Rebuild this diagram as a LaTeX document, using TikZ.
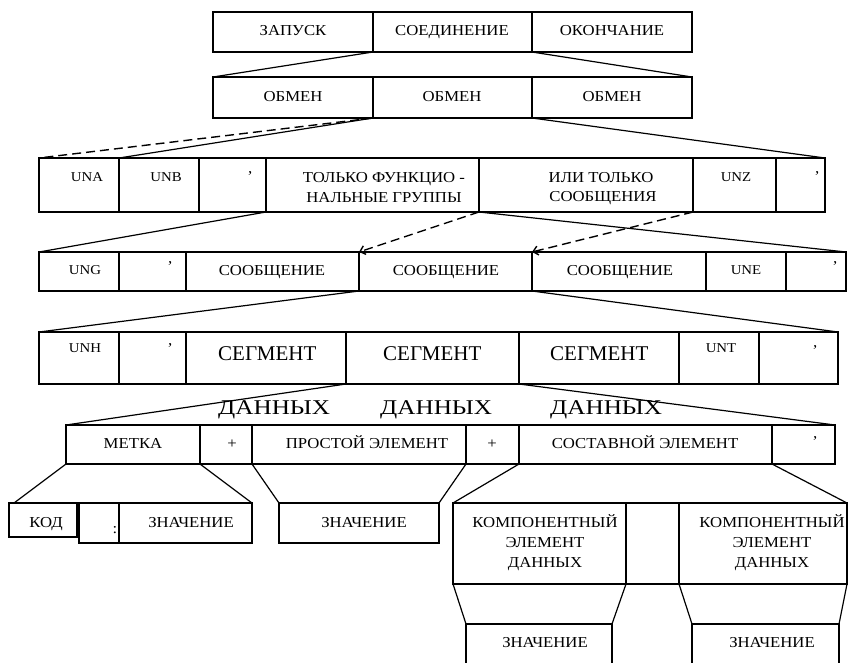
\documentclass[tikz,border=0pt]{standalone}
\usepackage{fontspec}
\usepackage{graphicx}
\setmainfont{Liberation Serif}[FakeStretch=1.1]
\newfontfamily\bigfont{Liberation Serif}
\usetikzlibrary{arrows.meta,calc}
\tikzset{
  cellbox/.style={draw, line width=1.2pt, rectangle, inner sep=0pt, outer sep=0pt, anchor=north west},
  txt/.style={inner sep=0pt, text height=10pt, text depth=0pt, font=\fontsize{15.2}{18}\selectfont},
  lat/.style={inner sep=0pt, text height=8.6pt, text depth=0pt, font=\fontsize{13.5}{16}\selectfont},
  apos/.style={inner sep=0pt, anchor=base, font=\fontsize{15}{18}\selectfont},
  bigtxt/.style={inner sep=0pt, anchor=base west, font=\bigfont\fontsize{21}{24}\selectfont},
  conn/.style={line width=1.2pt},
  dconn/.style={line width=1.4pt, dash pattern=on 9pt off 5pt},
  darrow/.style={line width=1.4pt, dash pattern=on 9pt off 5pt, -{Straight Barb[length=5pt,width=9pt]}}
}
\newcommand\cellat[6]{\node[cellbox, minimum width=#4pt, minimum height=#5pt] (#1) at (#2,#3) {#6};}
\begin{document}
\begin{tikzpicture}[x=1pt,y=-1pt]
\useasboundingbox (0,0) rectangle (848,662);
\clip (0,0) rectangle (848,662);
% row 1
\cellat{a1}{213}{12}{160}{40}{}
\cellat{a2}{373}{12}{159}{40}{}
\cellat{a3}{532}{12}{160}{40}{}
\node[txt] (ta1) at (293,30) {ЗАПУСК};
\node[txt] (ta2) at (452,30) {СОЕДИНЕНИЕ};
\node[txt] (ta3) at (612,30) {ОКОНЧАНИЕ};
% row 2
\cellat{b1}{213}{77}{160}{41}{}
\cellat{b2}{373}{77}{159}{41}{}
\cellat{b3}{532}{77}{160}{41}{}
\node[txt] (tb1) at (293,96) {ОБМЕН};
\node[txt] (tb2) at (452,96) {ОБМЕН};
\node[txt] (tb3) at (612,96) {ОБМЕН};
% row 3
\cellat{c1}{39}{158}{80}{54}{}
\cellat{c2}{119}{158}{80}{54}{}
\cellat{c3}{199}{158}{67}{54}{}
\cellat{c4}{266}{158}{213}{54}{}
\cellat{c5}{479}{158}{214}{54}{}
\cellat{c6}{693}{158}{83}{54}{}
\cellat{c7}{776}{158}{49}{54}{}
\node[lat] (tc1) at (87,177) {UNA};
\node[lat] (tc2) at (166,177) {UNB};
\node[apos] (tc3) at (250,181) {’};
\node[txt] (tc4a) at (384,177) {ТОЛЬКО ФУНКЦИО -};
\node[txt] (tc4b) at (384,197) {НАЛЬНЫЕ ГРУППЫ};
\node[txt] (tc5a) at (601,177) {ИЛИ ТОЛЬКО};
\node[txt] (tc5b) at (603,196) {СООБЩЕНИЯ};
\node[lat] (tc6) at (736,177) {UNZ};
\node[apos] (tc7) at (817,181) {’};
% row 4
\cellat{d1}{39}{252}{80}{39}{}
\cellat{d2}{119}{252}{67}{39}{}
\cellat{d3}{186}{252}{173}{39}{}
\cellat{d4}{359}{252}{173}{39}{}
\cellat{d5}{532}{252}{174}{39}{}
\cellat{d6}{706}{252}{80}{39}{}
\cellat{d7}{786}{252}{60}{39}{}
\node[lat] (td1) at (85,270) {UNG};
\node[apos] (td2) at (170,271) {’};
\node[txt] (td3) at (272,270) {СООБЩЕНИЕ};
\node[txt] (td4) at (446,270) {СООБЩЕНИЕ};
\node[txt] (td5) at (620,270) {СООБЩЕНИЕ};
\node[lat] (td6) at (746,270) {UNE};
\node[apos] (td7) at (835,271) {’};
% row 5
\cellat{e1}{39}{332}{80}{52}{}
\cellat{e2}{119}{332}{67}{52}{}
\cellat{e3}{186}{332}{160}{52}{}
\cellat{e4}{346}{332}{173}{52}{}
\cellat{e5}{519}{332}{160}{52}{}
\cellat{e6}{679}{332}{80}{52}{}
\cellat{e7}{759}{332}{79}{52}{}
\node[lat] (te1) at (85,348) {UNH};
\node[apos] (te2) at (170,353) {’};
\node[bigtxt] (te3a) at (218,360) {СЕГМЕНТ};
\node[bigtxt] (te3b) at (218,414) {\scalebox{1.2}[1]{ДАННЫХ}};
\node[bigtxt] (te4a) at (383,360) {СЕГМЕНТ};
\node[bigtxt] (te4b) at (380,414) {\scalebox{1.2}[1]{ДАННЫХ}};
\node[bigtxt] (te5a) at (550,360) {СЕГМЕНТ};
\node[bigtxt] (te5b) at (550,414) {\scalebox{1.2}[1]{ДАННЫХ}};
\node[lat] (te6) at (721,348) {UNT};
\node[apos] (te7) at (815,355) {’};
% row 6
\cellat{f1}{66}{425}{134}{39}{}
\cellat{f2}{200}{425}{52}{39}{}
\cellat{f3}{252}{425}{214}{39}{}
\cellat{f4}{466}{425}{53}{39}{}
\cellat{f5}{519}{425}{253}{39}{}
\cellat{f6}{772}{425}{63}{39}{}
\node[txt] (tf1) at (133,443) {МЕТКА};
\node[txt] (tf2) at (232,443) {+};
\node[txt] (tf3) at (367,443) {ПРОСТОЙ ЭЛЕМЕНТ};
\node[txt] (tf4) at (492,443) {+};
\node[txt] (tf5) at (645,443) {СОСТАВНОЙ ЭЛЕМЕНТ};
\node[apos] (tf6) at (815,446) {’};
% row 7 left
\cellat{g1}{9}{503}{68}{34}{}
\cellat{g2}{79}{503}{40}{40}{}
\cellat{g3}{119}{503}{133}{40}{}
\cellat{g4}{279}{503}{160}{40}{}
\node[txt] (tg1) at (46,522) {КОД};
\node[apos] (tg2) at (115,533) {:};
\node[txt] (tg3) at (191,522) {ЗНАЧЕНИЕ};
\node[txt] (tg4) at (364,522) {ЗНАЧЕНИЕ};
% row 7 right
\cellat{h1}{453}{503}{173}{81}{}
\cellat{h2}{626}{503}{53}{81}{}
\cellat{h3}{679}{503}{168}{81}{}
\node[txt] (th1a) at (545,522) {КОМПОНЕНТНЫЙ};
\node[txt] (th1b) at (545,542) {ЭЛЕМЕНТ};
\node[txt] (th1c) at (545,562) {ДАННЫХ};
\node[txt] (th3a) at (772,522) {КОМПОНЕНТНЫЙ};
\node[txt] (th3b) at (772,542) {ЭЛЕМЕНТ};
\node[txt] (th3c) at (772,562) {ДАННЫХ};
% row 8
\cellat{i1}{466}{624}{146}{60}{}
\cellat{i2}{692}{624}{147}{60}{}
\node[txt] (ti1) at (545,642) {ЗНАЧЕНИЕ};
\node[txt] (ti2) at (772,642) {ЗНАЧЕНИЕ};
% connectors
\draw[conn] (a1.south east) -- (b1.north west);
\draw[conn] (a3.south west) -- (b3.north east);
\draw[dconn] (b1.south east) -- (c1.north west);
\draw[conn] (b1.south east) -- (c2.north west);
\draw[conn] (b3.south west) -- (c7.north east);
\draw[conn] (c3.south east) -- (d1.north west);
\draw[conn] (c4.south east) -- (d7.north east);
\draw[darrow] (c4.south east) -- (d3.north east);
\draw[darrow] (c5.south east) -- (d4.north east);
\draw[conn] (d3.south east) -- (e1.north west);
\draw[conn] (d4.south east) -- (e7.north east);
\draw[conn] (e3.south east) -- (f1.north west);
\draw[conn] (e4.south east) -- (f6.north east);
\draw[conn] (f1.south west) -- ([xshift=5pt]g1.north west);
\draw[conn] (f1.south east) -- (g3.north east);
\draw[conn] (f2.south east) -- (g4.north west);
\draw[conn] (f3.south east) -- (g4.north east);
\draw[conn] (f4.south east) -- (h1.north west);
\draw[conn] (f5.south east) -- (h3.north east);
\draw[conn] (h1.south west) -- (i1.north west);
\draw[conn] (h1.south east) -- (i1.north east);
\draw[conn] (h2.south east) -- (i2.north west);
\draw[conn] (h3.south east) -- (i2.north east);
\end{tikzpicture}
\end{document}
